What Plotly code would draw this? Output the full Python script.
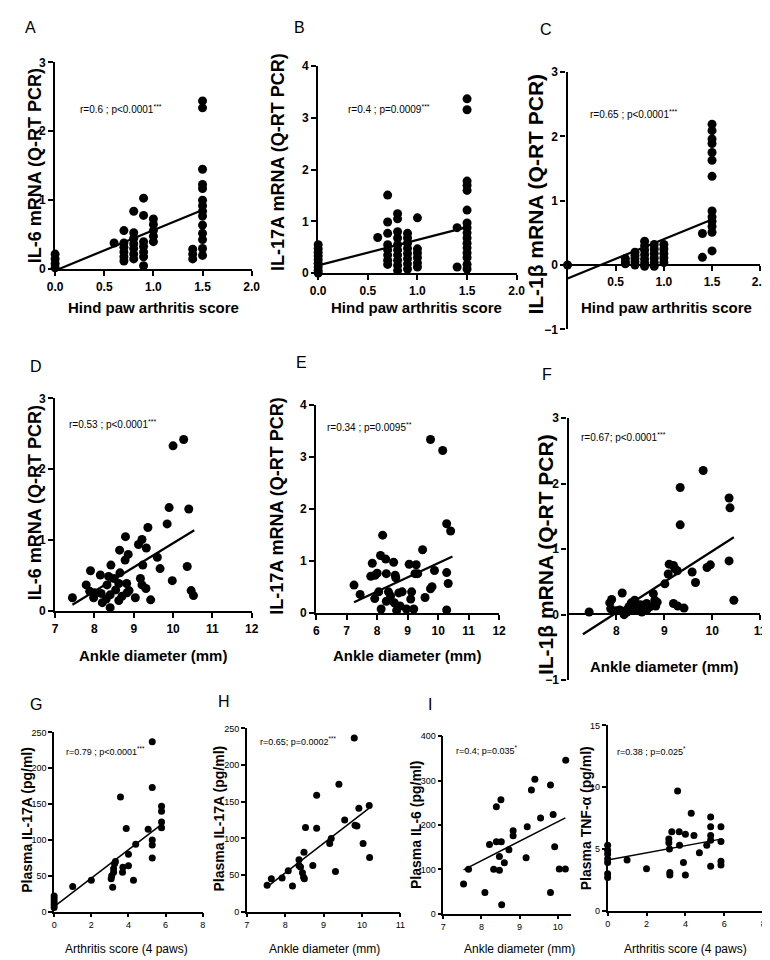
import plotly.graph_objects as go

# ---------------- DATA ----------------
# Panel A: IL-6 mRNA vs hind paw arthritis score
A_x = [0, 0, 0, 0,
       0.6,
       0.7, 0.7, 0.7, 0.7, 0.7, 0.7,
       0.8, 0.8, 0.8, 0.8, 0.8, 0.8, 0.8,
       0.9, 0.9, 0.9, 0.9, 0.9, 0.9, 0.9,
       1.0, 1.0, 1.0, 1.0, 1.0,
       1.4, 1.4, 1.4,
       1.5, 1.5, 1.5, 1.5, 1.5, 1.5, 1.5, 1.5, 1.5, 1.5, 1.5, 1.5, 1.5, 1.5]
A_y = [0.22, 0.15, 0.08, 0.02,
       0.38,
       0.56, 0.38, 0.32, 0.25, 0.18, 0.12,
       0.84, 0.53, 0.45, 0.37, 0.30, 0.22, 0.15,
       1.03, 0.78, 0.40, 0.33, 0.25, 0.18, 0.05,
       0.73, 0.65, 0.56, 0.48, 0.40,
       0.29, 0.22, 0.15,
       2.44, 2.34, 1.45, 1.23, 1.17, 1.00, 0.92, 0.84, 0.77, 0.64, 0.52, 0.43, 0.30, 0.20]
A_fit_x = [0, 1.5]
A_fit_y = [-0.02, 0.86]

# Panel B: IL-17A mRNA vs hind paw arthritis score
B_x = [0] * 9 + [0.6] + [0.7] * 8 + [0.8] * 10 + [0.9] * 8 + [1.0] * 6 + [1.4] * 2 + [1.5] * 16
B_y = [0.55, 0.47, 0.40, 0.33, 0.26, 0.19, 0.12, 0.05, 0.0,
       0.69,
       1.51, 0.99, 0.77, 0.55, 0.45, 0.35, 0.25, 0.17,
       1.15, 1.05, 0.80, 0.68, 0.55, 0.45, 0.35, 0.25, 0.15, 0.05,
       0.77, 0.68, 0.58, 0.48, 0.38, 0.28, 0.18, 0.08,
       1.07, 0.47, 0.39, 0.30, 0.20, 0.12,
       0.88, 0.12,
       3.37, 3.16, 1.78, 1.70, 1.60, 1.22, 0.97, 0.88, 0.78, 0.68, 0.58, 0.49, 0.39, 0.30, 0.17, 0.08]
B_fit_x = [0, 1.5]
B_fit_y = [0.15, 0.89]

# Panel C: IL-1beta mRNA vs hind paw arthritis score
C_x = [0] + [0.6] * 3 + [0.7] * 5 + [0.8] * 7 + [0.9] * 6 + [1.0] * 5 + [1.4] * 2 + [1.5] * 13
C_y = [0.0,
       0.10, 0.05, 0.02,
       0.20, 0.15, 0.10, 0.05, 0.0,
       0.37, 0.30, 0.23, 0.16, 0.09, 0.03, -0.02,
       0.32, 0.25, 0.18, 0.11, 0.04, -0.02,
       0.32, 0.25, 0.18, 0.11, 0.04,
       0.49, 0.12,
       2.19, 2.09, 1.96, 1.89, 1.75, 1.63, 1.38, 0.84, 0.75, 0.68, 0.60, 0.51, 0.22]
C_fit_x = [0, 1.5]
C_fit_y = [-0.21, 0.71]

# Panel D: IL-6 mRNA vs ankle diameter
D_x = [7.44, 7.79, 7.90, 7.88, 7.98, 8.00, 8.15, 8.17, 8.20, 8.30, 8.32, 8.36, 8.40, 8.42,
       8.40, 8.50, 8.54, 8.62, 8.64, 8.65, 8.62, 8.70, 8.78, 8.79, 8.82, 8.86, 8.83, 8.88,
       9.04, 9.12, 9.17, 9.21, 9.21, 9.23, 9.31, 9.32, 9.36, 9.43, 9.60, 9.67, 9.85, 9.90,
       9.98, 10.00, 10.27, 10.36, 10.40, 10.46, 10.52]
D_y = [0.19, 0.37, 0.57, 0.28, 0.19, 0.26, 0.51, 0.25, 0.12, 0.17, 0.37, 0.49, 0.05, 0.65,
       0.23, 0.46, 0.30, 0.39, 0.86, 0.54, 0.15, 0.21, 0.72, 1.05, 0.39, 0.80, 0.26, 0.29,
       0.19, 0.94, 0.46, 1.01, 0.37, 0.65, 0.32, 0.89, 1.18, 0.16, 0.76, 0.60, 1.23, 1.46,
       0.43, 2.33, 2.42, 0.63, 1.44, 0.29, 0.22]
D_fit_x = [7.44, 10.54]
D_fit_y = [0.09, 1.14]

# Panel E: IL-17A mRNA vs ankle diameter
E_x = [7.24, 7.44, 7.79, 7.84, 7.93, 8.00, 7.92, 8.05, 8.13, 8.11, 8.18, 8.28, 8.30, 8.30,
       8.37, 8.44, 8.54, 8.56, 8.59, 8.61, 8.64, 8.71, 8.75, 8.82, 8.96, 9.05, 9.10, 9.13,
       9.20, 9.24, 9.28, 9.33, 9.49, 9.57, 9.75, 9.75, 9.80, 9.88, 10.15, 10.28, 10.28,
       10.28, 10.33, 10.41]
E_y = [0.54, 0.36, 0.71, 0.96, 0.73, 0.77, 0.28, 0.41, 0.08, 1.11, 1.50, 1.04, 0.76, 0.23,
       0.41, 0.33, 0.98, 0.20, 0.73, 0.68, 0.05, 0.39, 0.14, 0.41, 0.08, 0.94, 0.27, 0.41,
       0.08, 0.76, 0.93, 0.76, 1.22, 0.30, 3.34, 0.47, 0.51, 0.82, 3.13, 1.72, 0.78,
       0.06, 0.57, 1.58]
E_fit_x = [7.24, 10.47]
E_fit_y = [0.21, 1.09]

# Panel F: IL-1beta mRNA vs ankle diameter
F_x = [7.43, 7.86, 7.88, 7.90, 8.00, 8.07, 8.12, 8.16, 8.22, 8.26, 8.31, 8.34, 8.38, 8.41,
       8.46, 8.50, 8.53, 8.59, 8.63, 8.63, 8.70, 8.77, 8.80, 8.82, 8.85, 9.01, 9.08, 9.10,
       9.19, 9.19, 9.22, 9.27, 9.28, 9.33, 9.33, 9.41, 9.58, 9.65, 9.81, 9.89, 9.96,
       10.35, 10.37, 10.35, 10.45]
F_y = [0.04, 0.18, 0.09, 0.23, 0.06, 0.07, 0.33, 0.00, 0.04, 0.12, 0.18, 0.08, 0.22, 0.10,
       0.07, 0.15, 0.04, 0.08, 0.17, 0.07, 0.12, 0.32, 0.22, 0.13, 0.19, 0.47, 0.62, 0.77,
       0.75, 0.17, 0.70, 0.67, 0.13, 1.94, 1.37, 0.10, 0.65, 0.49, 2.20, 0.72, 0.76,
       1.78, 1.63, 0.82, 0.22]
F_fit_x = [7.3, 10.45]
F_fit_y = [-0.30, 1.18]

# Panel G: plasma IL-17A vs arthritis score (4 paws)
G_x = [0, 0, 0, 0, 0, 1.0, 2.0, 3.07, 3.10, 3.15, 3.20, 3.20, 3.25, 3.30, 3.57, 3.68, 3.70,
       3.88, 4.00, 4.00, 4.27, 4.39, 5.06, 5.28, 5.28, 5.28, 5.28, 5.28, 5.78, 5.78, 5.78, 5.78]
G_y = [22, 18, 14, 10, 6, 35, 44, 46, 50, 34, 55, 60, 67, 70, 160, 55, 62,
       116, 80, 64, 44, 94, 115, 237, 173, 100, 93, 75, 147, 140, 125, 117]
G_fit_x = [0, 5.8]
G_fit_y = [7, 122]

# Panel H: plasma IL-17A vs ankle diameter
H_x = [7.53, 7.64, 7.92, 8.08, 8.19, 8.36, 8.36, 8.40, 8.45, 8.48, 8.50, 8.49, 8.53, 8.72,
       8.82, 8.82, 9.16, 9.20, 9.31, 9.40, 9.55, 9.80, 9.82, 9.87, 9.92, 10.03, 10.19, 10.20]
H_y = [36, 45, 46, 56, 35, 71, 63, 61, 53, 47, 45, 81, 115, 63,
       159, 114, 93, 100, 55, 174, 125, 237, 118, 117, 141, 93, 145, 74]
H_fit_x = [7.53, 10.18]
H_fit_y = [34, 141]

# Panel I: plasma IL-6 vs ankle diameter
I_x = [7.53, 7.66, 8.09, 8.21, 8.32, 8.39, 8.39, 8.47, 8.47, 8.51, 8.52, 8.53, 8.60, 8.72,
       8.83, 8.83, 9.17, 9.20, 9.31, 9.40, 9.55, 9.81, 9.81, 9.88, 9.92, 10.04, 10.20, 10.21]
I_y = [67, 100, 48, 156, 100, 241, 162, 129, 98, 257, 162, 20, 115, 144,
       187, 176, 126, 196, 279, 303, 216, 290, 48, 224, 151, 101, 101, 346]
I_fit_x = [7.53, 10.2]
I_fit_y = [99, 216]

# Panel I (right): plasma TNF-alpha vs arthritis score (4 paws)
T_x = [0, 0, 0, 0, 0, 0, 0, 1.0, 2.0, 3.15, 3.15, 3.18, 3.20, 3.20, 3.30, 3.60, 3.68, 3.70,
       3.90, 4.00, 4.00, 4.30, 4.44, 4.72, 5.10, 5.30, 5.30, 5.30, 5.30, 5.30, 5.83, 5.83,
       5.83, 5.83]
T_y = [5.3, 4.9, 4.6, 4.2, 3.9, 3.0, 2.7, 4.1, 3.4, 5.8, 5.5, 5.0, 3.1, 2.9, 6.4, 9.7, 6.4, 5.3,
       3.9, 6.2, 2.9, 7.9, 6.1, 4.7, 5.3, 7.6, 6.8, 6.1, 5.7, 3.6, 6.8, 5.6,
       4.0, 3.7]
T_fit_x = [0, 5.83]
T_fit_y = [4.1, 5.8]

# Texts
STATS = ["r=0.6 ; p<0.0001<sup>***</sup>", "r=0.4 ; p=0.0009<sup>***</sup>",
         "r=0.65 ; p<0.0001<sup>***</sup>", "r=0.53 ; p<0.0001<sup>***</sup>",
         "r=0.34 ; p=0.0095<sup>**</sup>", "r=0.67; p<0.0001<sup>***</sup>",
         "r=0.79 ; p<0.0001<sup>***</sup>", "r=0.65; p=0.0002<sup>***</sup>",
         "r=0.4; p=0.035<sup>*</sup>", "r=0.38 ; p=0.025<sup>*</sup>"]
Y_TITLES = ["IL-6 mRNA (Q-RT PCR)", "IL-17A mRNA (Q-RT PCR)", "IL-1β mRNA (Q-RT PCR)",
            "IL-6 mRNA (Q-RT PCR)", "IL-17A mRNA (Q-RT PCR)", "IL-1β mRNA (Q-RT PCR)",
            "Plasma IL-17A (pg/ml)", "Plasma IL-17A (pg/ml)", "Plasma IL-6 (pg/ml)",
            "Plasma TNF-α (pg/ml)"]
X_TITLES = ["Hind paw arthritis score", "Hind paw arthritis score", "Hind paw arthritis score",
            "Ankle diameter (mm)", "Ankle diameter (mm)", "Ankle diameter (mm)",
            "Arthritis score (4 paws)", "Ankle diameter (mm)", "Ankle diameter (mm)",
            "Arthritis score (4 paws)"]
LETTERS = ["A", "B", "C", "D", "E", "F", "G", "H", "I"]

# ---------------- LAYOUT / STYLE ----------------
W, H = 770, 960
FONT = "Liberation Sans, Arial, Helvetica, sans-serif"


def fx(p):
    return p / W


def fy(p):
    return 1 - p / H


panels = [
    dict(x=A_x, y=A_y, fx_=A_fit_x, fy_=A_fit_y, xpx=(40, 241), ypx=(48, 258), xr=(0, 2), yr=(0, 3),
         xt=[0, 0.5, 1, 1.5, 2], xf=".1f", yt=[0, 1, 2, 3], row=1, yts=18,
         stat=(63, 95), ytl=(19, 153), xtl=(141, 297)),
    dict(x=B_x, y=B_y, fx_=B_fit_x, fy_=B_fit_y, xpx=(309, 512), ypx=(52, 262), xr=(0, 2), yr=(0, 4),
         xt=[0, 0.5, 1, 1.5, 2], xf=".1f", yt=[0, 1, 2, 3, 4], row=1, yts=18,
         stat=(337, 95), ytl=(268, 149), xtl=(410, 297)),
    dict(x=C_x, y=C_y, fx_=C_fit_x, fy_=C_fit_y, xpx=(564, 761), ypx=(58, 319), xr=(0, 2), yr=(-1, 3),
         xt=[0.5, 1, 1.5, 2], xf=".1f", yt=[-1, 0, 1, 2, 3], row=1, xcross=254, yts=21,
         stat=(585, 100), ytl=(531, 182), xtl=(665, 297)),
    dict(x=D_x, y=D_y, fx_=D_fit_x, fy_=D_fit_y, xpx=(40, 241), ypx=(389, 605), xr=(7, 12), yr=(0, 3),
         xt=[7, 8, 9, 10, 11, 12], xf="", yt=[0, 1, 2, 3], row=1, yts=18,
         stat=(52, 415), ytl=(19, 495), xtl=(140, 650)),
    dict(x=E_x, y=E_y, fx_=E_fit_x, fy_=E_fit_y, xpx=(307, 494), ypx=(396, 607), xr=(6, 12), yr=(0, 4),
         xt=[6, 7, 8, 9, 10, 11, 12], xf="", yt=[0, 1, 2, 3, 4], row=1, yts=18,
         stat=(316, 418), ytl=(267, 498), xtl=(400, 650)),
    dict(x=F_x, y=F_y, fx_=F_fit_x, fy_=F_fit_y, xpx=(565, 761), ypx=(409, 675), xr=(7, 11), yr=(-1, 3),
         xt=[8, 9, 10, 11], xf="", yt=[-1, 0, 1, 2, 3], row=1, xcross=608, yts=21,
         stat=(576, 428), ytl=(541, 548), xtl=(663, 661)),
    dict(x=G_x, y=G_y, fx_=G_fit_x, fy_=G_fit_y, xpx=(39, 191), ypx=(728, 910), xr=(0, 8), yr=(0, 250),
         xt=[0, 2, 4, 6, 8], xf="", yt=[0, 50, 100, 150, 200, 250], row=3, yts=14,
         stat=(49, 747), ytl=(11, 817), xtl=(113, 948)),
    dict(x=H_x, y=H_y, fx_=H_fit_x, fy_=H_fit_y, xpx=(236, 393), ypx=(724, 910), xr=(7, 11), yr=(0, 250),
         xt=[7, 8, 9, 10, 11], xf="", yt=[0, 50, 100, 150, 200, 250], row=3, yts=14,
         stat=(247, 737), ytl=(208, 815), xtl=(315, 948)),
    dict(x=I_x, y=I_y, fx_=I_fit_x, fy_=I_fit_y, xpx=(437, 568), ypx=(732, 912), xr=(7, 10.36), yr=(0, 400),
         xt=[7, 8, 9, 10], xf="", yt=[0, 100, 200, 300, 400], row=3, yts=14,
         stat=(448, 746), ytl=(409, 822), xtl=(515, 948)),
    dict(x=T_x, y=T_y, fx_=T_fit_x, fy_=T_fit_y, xpx=(605, 764), ypx=(721, 909), xr=(0, 8), yr=(0, 15),
         xt=[0, 2, 4, 6, 8], xf="", yt=[0, 5, 10, 15], row=3, yts=14,
         stat=(613, 747), ytl=(583, 815), xtl=(685, 948)),
]

letter_pos = [(15, 13), (290, 13), (542, 15), (20, 357), (292, 353), (543, 365),
              (20, 700), (213, 697), (423, 700)]

fig = go.Figure()
layout = dict(width=W, height=H, margin=dict(l=0, r=0, t=0, b=0),
              paper_bgcolor="white", plot_bgcolor="rgba(0,0,0,0)", showlegend=False)
annotations = []

for i, p in enumerate(panels, start=1):
    xa = "x" if i == 1 else f"x{i}"
    ya = "y" if i == 1 else f"y{i}"
    big = p["row"] == 1
    msize = 9 if big else 7
    lw = 2.2 if big else 1.5
    tickfont = dict(family=FONT, size=12 if big else 9, color="black",
                    weight="bold" if big else "normal")

    fig.add_trace(go.Scatter(x=p["fx_"], y=p["fy_"], mode="lines", xaxis=xa, yaxis=ya,
                             line=dict(color="black", width=lw), cliponaxis=False, hoverinfo="skip"))
    fig.add_trace(go.Scatter(x=p["x"], y=p["y"], mode="markers", xaxis=xa, yaxis=ya,
                             marker=dict(color="black", size=msize), cliponaxis=False))

    xaxis = dict(domain=[fx(p["xpx"][0]), fx(p["xpx"][1])], range=list(p["xr"]),
                 tickvals=p["xt"], tickformat=p["xf"], showgrid=False, zeroline=False,
                 showline=True, linecolor="black", linewidth=lw, ticks="outside",
                 ticklen=5 if big else 4, tickwidth=lw, tickcolor="black", tickfont=tickfont,
                 fixedrange=True)
    if "xcross" in p:
        xaxis.update(anchor="free", position=fy(p["xcross"]))
    else:
        xaxis.update(anchor=ya)
    yaxis = dict(domain=[fy(p["ypx"][1]), fy(p["ypx"][0])], range=list(p["yr"]),
                 tickvals=p["yt"], anchor=xa, showgrid=False, zeroline=False,
                 showline=True, linecolor="black", linewidth=lw, ticks="outside",
                 ticklen=5 if big else 4, tickwidth=lw, tickcolor="black", tickfont=tickfont,
                 fixedrange=True)
    layout["xaxis" if i == 1 else f"xaxis{i}"] = xaxis
    layout["yaxis" if i == 1 else f"yaxis{i}"] = yaxis

    # stat text
    annotations.append(dict(text=STATS[i - 1], x=fx(p["stat"][0]), y=fy(p["stat"][1]),
                            xref="paper", yref="paper", xanchor="left", yanchor="middle",
                            showarrow=False,
                            font=dict(family=FONT, size=10 if big else 9, color="black")))
    # y title
    annotations.append(dict(text=Y_TITLES[i - 1], x=fx(p["ytl"][0]), y=fy(p["ytl"][1]),
                            xref="paper", yref="paper", xanchor="center", yanchor="middle",
                            textangle=-90, showarrow=False,
                            font=dict(family=FONT, size=p["yts"], color="black", weight="bold")))
    # x title
    annotations.append(dict(text=X_TITLES[i - 1], x=fx(p["xtl"][0]), y=fy(p["xtl"][1]),
                            xref="paper", yref="paper", xanchor="center", yanchor="middle",
                            showarrow=False,
                            font=dict(family=FONT, size=15 if big else 12, color="black",
                                      weight="bold" if big else "normal")))

for L, (lx, ly) in zip(LETTERS, letter_pos):
    annotations.append(dict(text=L, x=fx(lx), y=fy(ly), xref="paper", yref="paper",
                            xanchor="center", yanchor="middle", showarrow=False,
                            font=dict(family=FONT, size=16, color="black")))

layout["annotations"] = annotations
fig.update_layout(**layout)
fig.write_html("out.html")
